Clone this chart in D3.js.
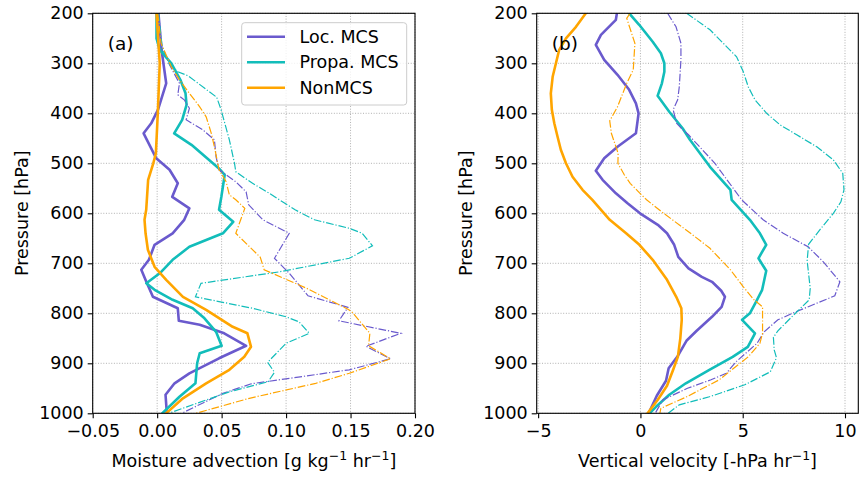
<!DOCTYPE html>
<html><head><meta charset="utf-8">
<script src="https://cdn.jsdelivr.net/npm/d3@7"></script>
<style>body{margin:0;background:#fff}svg{display:block}text{font-family:"DejaVu Sans",sans-serif;fill:#000}</style>
</head><body><svg id="chart" width="860" height="477"></svg>
<script>
// ---------- data (pressure hPa, value) ----------
const seriesNames = ["Loc. MCS", "Propa. MCS", "NonMCS"];
const pressureTicks = [200,300,400,500,600,700,800,900,1000];
const advTicks = [-0.05,0,0.05,0.10,0.15,0.20];
const advTickLabels = ["\u22120.05","0.00","0.05","0.10","0.15","0.20"];
const omegaTicks = [-5,0,5,10];
const omegaTickLabels = ["\u22125","0","5","10"];

// panel (a) moisture advection, solid lines
const advLocMCS = [[200,0.001],[273,0.0034],[340,0.007],[393,0.0006],[420,-0.0046],[440,-0.0105],[490,-0.0007],[513,0.0096],[540,0.016],[567,0.0117],[590,0.025],[613,0.021],[640,0.012],[663,-0.002],[693,-0.0064],[713,-0.0123],[737,-0.0084],[767,-0.0033],[790,0.016],[815,0.0168],[823,0.033],[840,0.052],[865,0.069],[890,0.048],[920,0.025],[940,0.0135],[963,0.0065],[1000,0.0075]];
const advPropaMCS = [[200,-0.0005],[250,-0.0005],[273,0.002],[300,0.011],[333,0.018],[360,0.022],[383,0.0228],[413,0.0194],[440,0.0132],[463,0.0266],[512,0.0486],[523,0.0524],[567,0.0498],[593,0.048],[617,0.059],[640,0.051],[667,0.025],[693,0.012],[720,0.002],[740,-0.0084],[753,-0.002],[773,0.012],[790,0.0276],[810,0.0367],[837,0.0457],[865,0.050],[880,0.033],[900,0.031],[940,0.0297],[967,0.0173],[1000,0.004]];
const advNonMCS = [[200,-0.0005],[300,0.002],[400,0.0005],[480,-0.001],[500,-0.003],[533,-0.007],[593,-0.0085],[613,-0.0098],[640,-0.009],[673,-0.0072],[707,-0.002],[733,0.007],[767,0.02],[793,0.038],[827,0.0586],[840,0.070],[867,0.0728],[887,0.0676],[913,0.056],[940,0.038],[970,0.02],[1000,0.007]];
// panel (a) dash-dot lines
const advLocMCS2 = [[200,0.001],[260,0.003],[303,0.0096],[340,0.0173],[363,0.016],[373,0.021],[390,0.025],[413,0.0225],[433,0.0354],[453,0.0444],[487,0.0457],[513,0.048],[537,0.061],[557,0.069],[583,0.071],[613,0.082],[640,0.1025],[690,0.091],[720,0.1025],[743,0.110],[765,0.117],[788,0.148],[815,0.141],[840,0.189],[866,0.162],[891,0.181],[913,0.149],[941,0.073],[960,0.051],[1000,0.019]];
const advPropaMCS2 = [[200,0.001],[270,0.004],[303,0.0098],[317,0.016],[325,0.024],[368,0.0462],[393,0.0496],[453,0.056],[500,0.060],[517,0.061],[540,0.074],[560,0.087],[593,0.107],[613,0.122],[630,0.149],[640,0.159],[665,0.167],[690,0.149],[717,0.095],[740,0.034],[767,0.0297],[790,0.074],[807,0.100],[817,0.110],[840,0.118],[860,0.100],[898,0.0857],[918,0.091],[937,0.086],[957,0.056],[1000,0.009]];
const advNonMCS2 = [[200,0.0005],[260,0.003],[307,0.011],[333,0.0173],[360,0.025],[387,0.033],[407,0.038],[440,0.042],[467,0.0444],[513,0.048],[537,0.0535],[563,0.056],[573,0.061],[590,0.068],[640,0.061],[688,0.080],[713,0.083],[750,0.116],[792,0.148],[797,0.151],[840,0.165],[865,0.164],[891,0.181],[920,0.149],[940,0.123],[970,0.0715],[1000,0.03]];

// panel (b) vertical velocity, solid lines
const omegaLocMCS = [[200,-1.15],[213,-1.2],[243,-1.93],[263,-2.18],[293,-1.77],[323,-1.12],[353,-0.55],[380,-0.22],[400,-0.09],[440,-0.22],[467,-1.12],[490,-1.77],[515,-2.18],[533,-1.85],[560,-1.2],[580,-0.63],[600,-0.02],[623,0.85],[640,1.3],[663,1.65],[687,1.85],[710,2.35],[727,3.0],[737,3.5],[755,3.95],[767,4.13],[787,3.97],[807,3.5],[835,2.75],[855,2.25],[887,1.8],[910,1.38],[935,1.25],[965,0.8],[1000,0.4]];
const omegaPropaMCS = [[200,-0.55],[223,-0.06],[257,0.6],[280,1.0],[300,1.17],[317,1.17],[340,1.05],[365,0.84],[397,1.41],[430,2.06],[453,2.42],[507,3.4],[553,4.4],[573,4.46],[613,5.35],[640,5.84],[663,6.15],[690,5.77],[715,6.15],[753,5.95],[777,5.65],[800,5.35],[813,4.97],[840,5.6],[867,5.25],[887,4.51],[913,3.37],[940,2.22],[963,1.41],[987,0.76],[1000,0.45]];
const omegaNonMCS = [[200,-2.67],[227,-3.15],[250,-3.64],[273,-3.97],[300,-4.13],[327,-4.29],[360,-4.38],[393,-4.33],[420,-4.21],[447,-4.05],[473,-3.89],[500,-3.64],[527,-3.32],[553,-2.83],[573,-2.35],[613,-1.5],[640,-0.7],[663,-0.05],[693,0.6],[733,1.3],[767,1.75],[790,2.0],[813,2.02],[850,1.95],[887,1.83],[913,1.6],[945,1.3],[973,0.85],[1000,0.35]];
// panel (b) dash-dot lines
const omegaLocMCS2 = [[200,1.33],[227,1.74],[260,1.98],[293,1.98],[347,1.9],[373,1.82],[393,1.6],[420,1.77],[430,2.0],[443,2.35],[500,3.64],[573,4.95],[613,6.0],[640,6.98],[667,8.2],[697,8.94],[737,9.75],[765,9.5],[797,7.6],[813,6.72],[837,6.05],[860,5.7],[897,4.67],[920,4.2],[933,3.45],[950,2.3],[973,1.1],[1000,0.72]];
const omegaPropaMCS2 = [[200,2.26],[233,3.4],[267,4.22],[287,4.7],[317,5.03],[347,5.27],[373,5.6],[400,6.17],[423,6.82],[443,7.64],[467,8.62],[493,9.43],[520,9.89],[553,9.95],[577,9.8],[600,9.43],[630,8.83],[662,8.22],[695,8.15],[750,8.3],[773,8.25],[803,7.5],[835,6.72],[848,6.5],[873,6.54],[889,6.65],[917,6.35],[943,5.1],[967,3.37],[983,1.9],[1000,1.35]];
const omegaNonMCS2 = [[200,-0.51],[210,-0.67],[260,-0.27],[313,-0.35],[340,-0.67],[387,-1.12],[415,-1.5],[440,-1.42],[480,-1.09],[500,-1.1],[523,-0.79],[540,-0.5],[560,-0.02],[573,0.3],[597,1.04],[640,2.45],[670,3.4],[713,4.4],[747,5.03],[773,5.55],[787,5.97],[840,5.97],[860,5.84],[887,5.27],[933,3.85],[967,2.26],[990,1.0],[1000,0.95]];

const colors = ["#6A5ACD", "#12BDBA", "#FFA500"];

// ---------- drawing ----------
const svg = d3.select("#chart");
const yTop = 13.3, yBot = 413.3;
const FS = 17.5;

const panels = [
  {x0:92.7, x1:415, domain:[-0.05,0.20], ticks:advTicks, labels:advTickLabels, tag:"(a)",
   solid:[advLocMCS,advPropaMCS,advNonMCS], dash:[advLocMCS2,advPropaMCS2,advNonMCS2],
   xlabel:[["Moisture advection [g kg",0],["\u22121",1],[" hr",0],["\u22121",1],["]",0]], ylabelX:22, legend:true},
  {x0:536.7, x1:858.3, domain:[-5.07,10.65], ticks:omegaTicks, labels:omegaTickLabels, tag:"(b)",
   solid:[omegaLocMCS,omegaPropaMCS,omegaNonMCS], dash:[omegaLocMCS2,omegaPropaMCS2,omegaNonMCS2],
   xlabel:[["Vertical velocity [-hPa hr",0],["\u22121",1],["]",0]], ylabelX:466, legend:false}
];

panels.forEach((P, pi) => {
  const x = d3.scaleLinear().domain(P.domain).range([P.x0, P.x1]);
  const y = d3.scaleLinear().domain([200,1000]).range([yTop, yBot]);
  const g = svg.append("g");
  const clipId = "clip"+pi;
  svg.append("clipPath").attr("id", clipId).append("rect")
    .attr("x", P.x0).attr("y", yTop).attr("width", P.x1-P.x0).attr("height", yBot-yTop);

  // grid
  g.selectAll(".gx").data(P.ticks).enter().append("line")
    .attr("x1", d=>x(d)).attr("x2", d=>x(d)).attr("y1", yTop).attr("y2", yBot)
    .attr("stroke", "#b0b0b0").attr("stroke-width", 1).attr("stroke-dasharray", "1,1.65");
  g.selectAll(".gy").data(pressureTicks).enter().append("line")
    .attr("x1", P.x0).attr("x2", P.x1).attr("y1", d=>y(d)).attr("y2", d=>y(d))
    .attr("stroke", "#b0b0b0").attr("stroke-width", 1).attr("stroke-dasharray", "1,1.65");

  const line = d3.line().x(d=>x(d[1])).y(d=>y(d[0]));
  const lg = g.append("g").attr("clip-path", `url(#${clipId})`);
  P.solid.forEach((s, i) => {
    lg.append("path").datum(s).attr("d", line).attr("fill","none")
      .attr("stroke", colors[i]).attr("stroke-width", 2.6).attr("stroke-linejoin","round").attr("stroke-linecap","square");
  });
  P.dash.forEach((s, i) => {
    lg.append("path").datum(s).attr("d", line).attr("fill","none")
      .attr("stroke", colors[i]).attr("stroke-width", 1.2).attr("stroke-dasharray","7.7,1.9,1.2,1.9");
  });

  // frame
  g.append("rect").attr("x", P.x0).attr("y", yTop).attr("width", P.x1-P.x0).attr("height", yBot-yTop)
    .attr("fill","none").attr("stroke","#000").attr("stroke-width",1.1);

  // axes ticks
  const xa = d3.axisBottom(x).tickValues(P.ticks).tickFormat((d,i)=>P.labels[i]).tickSize(5).tickPadding(6);
  const xg = g.append("g").attr("transform", `translate(0,${yBot})`).call(xa);
  xg.select(".domain").remove();
  xg.selectAll("line").attr("stroke-width", 1.1);
  xg.selectAll("text").attr("font-size", FS).attr("font-family", "DejaVu Sans");
  const ya = d3.axisLeft(y).tickValues(pressureTicks).tickSize(5).tickPadding(4).tickFormat(d3.format("d"));
  const yg = g.append("g").attr("transform", `translate(${P.x0},0)`).call(ya);
  yg.select(".domain").remove();
  yg.selectAll("line").attr("stroke-width", 1.1);
  yg.selectAll("text").attr("font-size", FS).attr("font-family", "DejaVu Sans");

  // axis labels
  const xl = g.append("text").attr("x", (P.x0+P.x1)/2).attr("y", 467).attr("text-anchor","middle").attr("font-size",FS);
  P.xlabel.forEach(([t, sup]) => {
    const ts = xl.append("tspan").text(t);
    if (sup) ts.attr("font-size", 12.5).attr("dy", -7.5);
    else if (xl.selectAll("tspan").size() > 1) ts.attr("dy", 7.5);
  });
  g.append("text").attr("transform", `translate(${P.ylabelX},${(yTop+yBot)/2}) rotate(-90)`)
    .attr("text-anchor","middle").attr("dominant-baseline","central").attr("font-size",FS).text("Pressure [hPa]");

  // panel tag
  g.append("text").attr("x", P.x0+15).attr("y", 50).attr("font-size", 18.5).text(P.tag);

  // legend
  if (P.legend) {
    const L = g.append("g");
    L.append("rect").attr("x", 241.7).attr("y", 22.7).attr("width", 165).attr("height", 82.3).attr("rx", 3)
      .attr("fill","#fff").attr("fill-opacity",0.8).attr("stroke","#cccccc").attr("stroke-width",1);
    seriesNames.forEach((n, i) => {
      const yy = 36.7 + i*25.5;
      L.append("line").attr("x1",247).attr("x2",285).attr("y1",yy).attr("y2",yy)
        .attr("stroke", colors[i]).attr("stroke-width",2.6);
      L.append("text").attr("x",299.5).attr("y",yy).attr("dominant-baseline","central").attr("font-size",FS).text(n);
    });
  }
});
</script></body></html>
